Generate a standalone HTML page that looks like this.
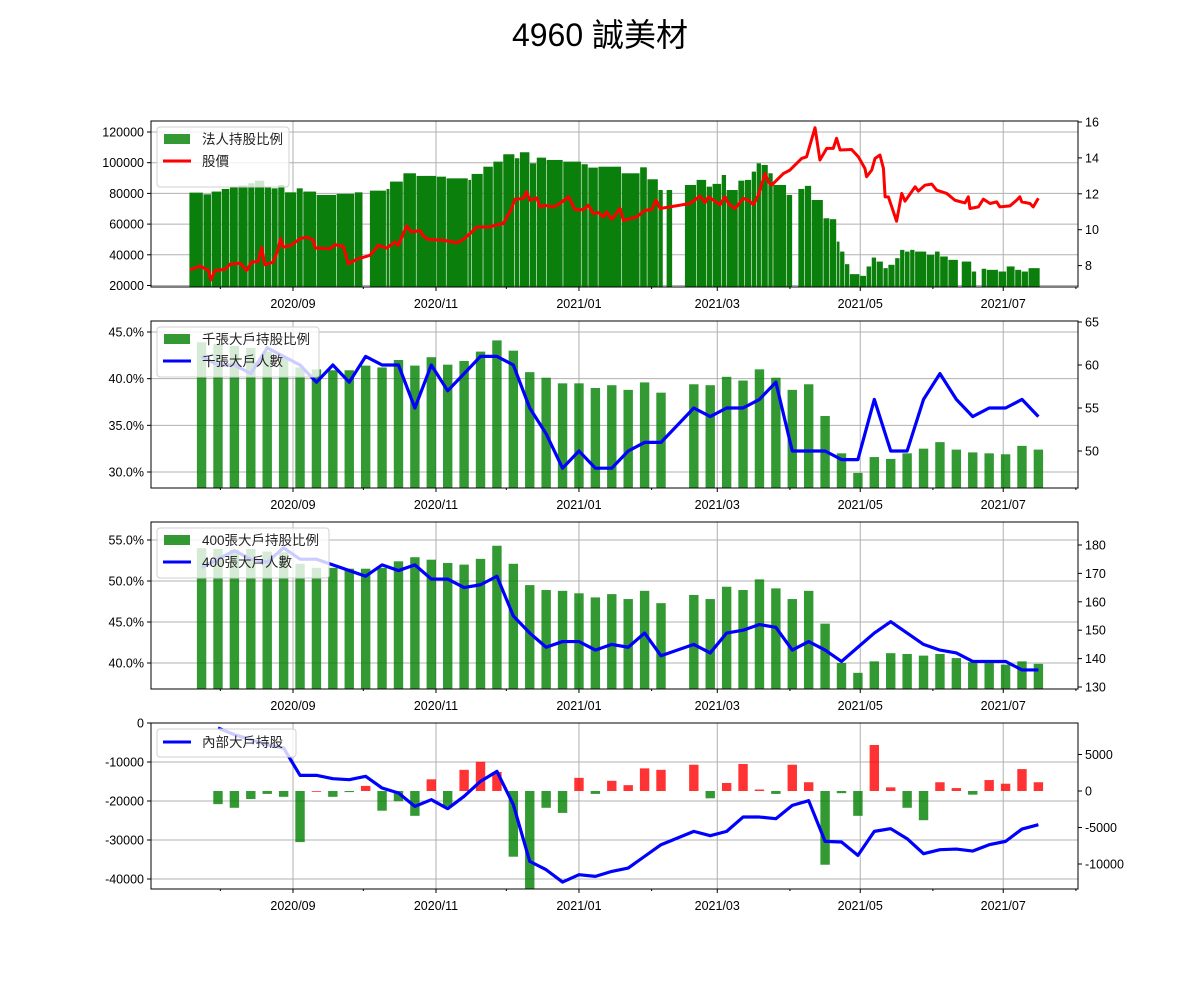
<!DOCTYPE html>
<html><head><meta charset="utf-8"><style>
html,body{margin:0;padding:0;background:#fff;}
svg{display:block;font-family:"Liberation Sans","Noto Sans CJK TC",sans-serif;}
</style></head><body>
<svg id="chart" width="1200" height="1000" viewBox="0 0 1200 1000">
<text x="600" y="46" font-size="32" text-anchor="middle" fill="#000" font-family="Liberation Sans, Noto Sans CJK TC, sans-serif">4960 誠美材</text>
</svg>
<script>
// ---------- Data ----------
// Panel 1: day offsets from 2020-09-01; each bar spans to the next entry
const holdDays = [-44.2,-38.2,-34.7,-30.4,-26.9,-23.3,-19.1,-16.2,-12,-9.1,-6.3,-3.4,1.6,4.4,10.1,18.6,26.4,29.9,32.8,39.9,41.4,47.1,52.7,61.3,65.5,74.8,76.2,81.2,85.5,89.7,94.7,96.8,101.1,104,108.2,115.3,123.1,126,130.3,140.2,148.1,151.2,155.9,158,159.4,162,167.2,172.2,176.5,179,182.9,185,190,192.8,195.7,197.8,199.9,202.8,204.9,210.6,213.2,215.6,218.4,221.3,226.3,229.1,232,233.4,235.5,237.6,241.9,244.7,246.9,249,251.9,254,256.9,259,261.1,263.3,265.4,270.4,273.9,276.1,279.6,283.9,285.3,289.6,291.7,293.8,296,301,304.5,308.1,310.9,313.8,318.8];
const holdVals = [80500,79400,81200,82900,84400,85100,86600,88300,83800,83300,85500,80700,83300,81200,79000,79700,80700,null,81800,82900,87700,93100,91400,90900,89800,88800,92700,97400,100700,105500,102900,106800,99600,103300,101800,100700,99000,96800,97400,93100,97000,89200,82200,null,82200,null,85500,88800,84400,86200,92000,82200,88300,88800,94200,99600,98500,93100,85500,79000,null,82900,84900,75700,63800,63200,48600,42100,33900,27400,26300,32400,38200,35600,31300,33500,37800,43200,42100,43200,42100,40000,42100,38900,36700,null,35600,29100,null,30900,30200,29100,32400,30200,29100,31300,null];
const priceDays = [-43.9,-39.7,-36.1,-35.0,-33.3,-29.0,-26.9,-22.6,-19.8,-17.6,-14.8,-13.4,-12.0,-8.4,-6.3,-5.3,-4.1,-0.9,3.0,5.8,8.7,9.4,15.8,17.9,21.5,23.6,27.2,32.8,34.3,36.4,40.0,43.5,44.9,48.5,50.6,54.2,55.6,57.7,64.1,67.0,69.8,72.7,75.5,78.4,84.0,86.9,89.7,93.3,94.7,98.3,99.7,101.1,104.0,105.4,107.5,111.1,113.9,117.5,120.3,123.9,126.0,128.1,130.3,132.4,133.8,136.0,139.5,140.9,146.6,150.2,153.0,154.9,156.6,169.4,173.6,175.8,177.2,182.2,184.3,185.7,188.6,192.1,194.3,196.4,198.5,201.4,202.8,204.2,209.2,212.0,217.0,219.1,222.7,224.8,227.7,230.5,231.9,233.4,238.3,241.2,244.0,244.7,246.9,248.3,250.4,251.9,252.6,254.0,257.5,259.7,261.1,265.4,266.8,269.6,272.5,274.6,278.9,282.4,286.7,288.1,288.8,292.4,294.5,297.4,300.2,301.6,305.9,308.7,310.1,310.9,314.4,315.8,318.0];
const priceVals = [7.77,7.97,7.73,7.21,7.73,7.79,8.07,8.14,7.73,8.20,8.23,9.03,8.05,8.20,8.94,9.50,9.03,9.13,9.50,9.59,9.41,8.98,8.94,9.17,9.07,8.10,8.35,8.57,8.79,9.13,8.98,9.31,9.13,10.21,9.87,9.95,9.65,9.46,9.41,9.35,9.26,9.46,9.78,10.15,10.15,10.28,10.34,11.18,11.70,11.73,12.11,11.64,11.77,11.27,11.36,11.27,11.46,11.83,11.12,11.12,11.36,10.90,10.95,10.71,10.99,10.58,11.18,10.52,10.71,11.08,11.12,11.64,11.18,11.46,11.87,11.51,11.83,11.40,11.83,11.46,11.18,11.75,11.64,11.40,11.92,13.13,12.67,12.48,13.13,13.32,13.97,14.06,15.68,13.88,14.53,14.53,15.09,14.44,14.47,14.06,13.41,12.95,13.32,13.97,14.16,13.41,11.83,11.83,10.47,12.02,11.59,12.39,12.15,12.48,12.54,12.20,12.02,11.64,11.49,11.83,11.18,11.27,11.70,11.46,11.55,11.27,11.33,11.64,11.83,11.55,11.46,11.27,11.75];

// Weekly series: week index i -> day = -39 + 7*i (2020-07-24 ... 2021-07-16)
const weekIndex = Array.from({length:52},(_,i)=>i);
const big1000Pct = [43.9,43.7,43.5,43.3,42.9,42.3,41.2,41.0,40.9,40.9,41.4,41.2,42.0,41.4,42.3,41.5,41.9,42.9,44.1,43.0,40.7,40.1,39.5,39.5,39.0,39.3,38.8,39.6,38.5,null,39.4,39.3,40.2,39.8,41.0,40.1,38.8,39.4,36.0,32.0,29.9,31.6,31.4,32.0,32.5,33.2,32.4,32.1,32.0,31.9,32.8,32.4];
const big1000Count = [61,60,60,59,62,61,60,58,60,58,61,60,60,55,60,57,59,61,61,60,55,52,48,50,48,48,50,51,51,null,55,54,55,55,56,58,50,50,50,49,49,56,50,50,56,59,56,54,55,55,56,54];
const big400Pct = [54.0,53.9,53.8,53.9,53.6,53.5,52.1,51.6,51.6,51.5,51.5,51.6,52.4,52.9,52.6,52.2,52.0,52.7,54.3,52.1,49.5,48.9,48.8,48.5,48.0,48.4,47.8,48.8,47.3,null,48.3,47.8,49.3,48.9,50.2,49.1,47.8,48.8,44.8,40.0,38.8,40.2,41.2,41.1,40.9,41.1,40.6,40.1,40.1,39.8,40.2,39.9];
const big400Count = [172,175,178,175,174,179,175,175,173,171,169,173,171,173,168,168,165,166,169,155,149,144,146,146,143,145,144,149,141,null,145,142,149,150,152,151,143,146,143,139,144,149,153,149,145,143,142,139,139,139,136,136];
const insiderChange = [null,-1800,-2300,-1100,-400,-800,-7000,0,-800,-150,700,-2700,-1400,-3400,1600,-2100,2900,4000,2600,-9000,-14000,-2300,-3000,1800,-400,1400,800,3100,2900,null,3600,-1000,1100,3700,200,-400,3600,1200,-10100,-300,-3400,6300,500,-2300,-4000,1200,400,-500,1500,1000,3000,1200];
const insiderTotal = [null,-1280,-2990,-4270,-5560,-6410,-13420,-13420,-14280,-14530,-13680,-16670,-17950,-21370,-19660,-21970,-18800,-14960,-12400,-20950,-35480,-37620,-40780,-38900,-39330,-38050,-37190,-34200,-31210,null,-27790,-28900,-27790,-24110,-24110,-24540,-21120,-19920,-30350,-30520,-33940,-27790,-27100,-29670,-33520,-32490,-32320,-32830,-31210,-30350,-27190,-26080];

const xTickDays = [0,61,122,181,242,303];
const xTickLabels = ["2020/09","2020/11","2021/01","2021/03","2021/05","2021/07"];
const xMinorDays = [-31,30,91,153,212,273,334];

// ---------- Helpers ----------
const NS = "http://www.w3.org/2000/svg";
const svg = document.getElementById('chart');
const X0 = 151, X1 = 1078;
function xs(day){ return 293 + day*2.344; }
function mk(tag, attrs, parent){
  const e = document.createElementNS(NS, tag);
  for (const k in attrs) e.setAttribute(k, attrs[k]);
  (parent||svg).appendChild(e);
  return e;
}
function lin(v0,y0,v1,y1){ return v => y0 + (v - v0)*(y1 - y0)/(v1 - v0); }

function panelFrame(name, top, bottom, leftTicks, leftLabels, ly, rightTicks, rightLabels, ry){
  const g = mk('g', {});
  
  
  const cid = name + '-clip';
  const cp = mk('clipPath', {id: cid}, g);
  mk('rect', {x:X0, y:top, width:X1-X0, height:bottom-top}, cp);
  // grid
  const grid = mk('g', {stroke:'#b0b0b0','stroke-width':1}, g);
  
  
  xTickDays.forEach(d => mk('line', {x1:xs(d), x2:xs(d), y1:top, y2:bottom}, grid));
  leftTicks.forEach(v => mk('line', {x1:X0, x2:X1, y1:ly(v), y2:ly(v)}, grid));
  const plot = mk('g', {'clip-path':'url(#'+cid+')'}, g);
  return {g, plot, top, bottom, leftTicks, leftLabels, ly, rightTicks, rightLabels, ry, name};
}
function panelAxes(p){
  const g = p.g;
  mk('rect', {x:X0, y:p.top, width:X1-X0, height:p.bottom-p.top, fill:'none', stroke:'#000', 'stroke-width':1}, g);
  const ax = mk('g', {'font-size':12.5, fill:'#000'}, g);
  
  
  p.leftTicks.forEach((v,i) => {
    const y = p.ly(v);
    mk('line', {x1:X0-4, x2:X0, y1:y, y2:y, stroke:'#000'}, ax);
    const t = mk('text', {x:X0-7, y:y+4.5, 'text-anchor':'end'}, ax);
    t.textContent = p.leftLabels[i];
  });
  p.rightTicks.forEach((v,i) => {
    const y = p.ry(v);
    mk('line', {x1:X1, x2:X1+4, y1:y, y2:y, stroke:'#000'}, ax);
    const t = mk('text', {x:X1+7, y:y+4.5, 'text-anchor':'start'}, ax);
    t.textContent = p.rightLabels[i];
  });
  xTickDays.forEach((d,i) => {
    mk('line', {x1:xs(d), x2:xs(d), y1:p.bottom, y2:p.bottom+4, stroke:'#000'}, ax);
    const t = mk('text', {x:xs(d), y:p.bottom+21, 'text-anchor':'middle'}, ax);
    t.textContent = xTickLabels[i];
  });
  xMinorDays.forEach(d => mk('line', {x1:xs(d), x2:xs(d), y1:p.bottom, y2:p.bottom+2, stroke:'#000'}, ax));
}
function legend(p, w, h, items){
  const lg = mk('g', {}, p.g);
  
  
  mk('rect', {x:157, y:p.top+6, width:w, height:h, rx:3, fill:'#fff', 'fill-opacity':0.8, stroke:'#d0d0d0'}, lg);
  items.forEach((it,i) => {
    const cy = p.top + 18 + i*22;
    if (it.type === 'bar') mk('rect', {x:164, y:cy-5, width:26, height:10, fill:it.color, 'fill-opacity':0.8}, lg);
    else mk('line', {x1:163, x2:191, y1:cy, y2:cy, stroke:it.color, 'stroke-width':3}, lg);
    const t = mk('text', {x:202, y:cy+5, 'font-size':13.5, fill:'#222'}, lg);
    t.textContent = it.label;
  });
}
function linePath(days, vals, ys){
  let d = '';
  days.forEach((dd,i) => { if (vals[i] == null) return; d += (d ? 'L' : 'M') + xs(dd).toFixed(2) + ',' + ys(vals[i]).toFixed(2); });
  return d;
}
const weekDays = weekIndex.map(i => -39 + 7*i);

// ---------- Panel 1 ----------
{
  const ly = lin(120000,132,20000,285.5), ry = lin(16,122,8,265.6);
  const p = panelFrame('panel-institutional', 121, 287, [20000,40000,60000,80000,100000,120000], ['20000','40000','60000','80000','100000','120000'], ly, [8,10,12,14,16], ['8','10','12','14','16'], ry);
  const bars = mk('g', {fill:'#0b7f0b'}, p.plot);
  
  
  for (let k = 0; k < holdDays.length - 1; k++) {
    if (holdVals[k] == null) continue;
    const xa = xs(holdDays[k]), xb = xs(holdDays[k+1]);
    const r = mk('rect', {x:xa, y:ly(holdVals[k]), width:Math.max(0.5, xb-xa-0.6), height:p.bottom - ly(holdVals[k])}, bars);
    
    
  }
  const pl = mk('path', {d:linePath(priceDays, priceVals, ry), fill:'none', stroke:'#ff0000', 'stroke-width':3, 'stroke-linejoin':'round'}, p.plot);
  
  
  panelAxes(p);
  legend(p, 132, 60, [{type:'bar', color:'#008000', label:'法人持股比例'}, {type:'line', color:'#ff0000', label:'股價'}]);
}

// ---------- Panels 2/3 ----------
function weeklyPanel(name, top, bottom, pctVals, cntVals, ly, ry, lt, ll, rt, rl, labels, legendW, barName, lineName){
  const p = panelFrame(name, top, bottom, lt, ll, ly, rt, rl, ry);
  const bars = mk('g', {fill:'#008000', 'fill-opacity':0.8}, p.plot);
  
  
  weekDays.forEach((d,i) => {
    if (pctVals[i] == null) return;
    const y = ly(pctVals[i]);
    const r = mk('rect', {x:xs(d)-4.7, y:y, width:9.4, height:bottom - y}, bars);
    
    
  });
  const pl = mk('path', {d:linePath(weekDays, cntVals, ry), fill:'none', stroke:'#0000ff', 'stroke-width':3.2, 'stroke-linejoin':'round'}, p.plot);
  
  
  panelAxes(p);
  legend(p, legendW, 50, [{type:'bar', color:'#008000', label:labels[0]}, {type:'line', color:'#0000ff', label:labels[1]}]);
}
weeklyPanel('panel-1000-holders', 321, 488, big1000Pct, big1000Count, lin(45,332,30,472), lin(65,322,50,451),
  [30,35,40,45], ['30.0%','35.0%','40.0%','45.0%'], [50,55,60,65], ['50','55','60','65'],
  ['千張大戶持股比例','千張大戶人數'], 162, 'big1000-pct-bars', 'big1000-count-line');
weeklyPanel('panel-400-holders', 522, 689, big400Pct, big400Count, lin(55,540,40,663), lin(180,545,130,687),
  [40,45,50,55], ['40.0%','45.0%','50.0%','55.0%'], [130,140,150,160,170,180], ['130','140','150','160','170','180'],
  ['400張大戶持股比例','400張大戶人數'], 172, 'big400-pct-bars', 'big400-count-line');

// ---------- Panel 4 ----------
{
  const ly = lin(0,723,-40000,879), ry = lin(0,791,-10000,864);
  const p = panelFrame('panel-insider', 723, 889, [0,-10000,-20000,-30000,-40000], ['0','-10000','-20000','-30000','-40000'], ly, [5000,0,-5000,-10000], ['5000','0','-5000','-10000'], ry);
  const bars = mk('g', {'fill-opacity':0.8}, p.plot);
  
  
  weekDays.forEach((d,i) => {
    const v = insiderChange[i];
    if (v == null) return;
    const y0 = ry(0), y1 = ry(v);
    const r = mk('rect', {x:xs(d)-4.7, y:Math.min(y0,y1), width:9.4, height:Math.max(0.8, Math.abs(y1-y0)), fill: v >= 0 ? '#ff0000' : '#008000'}, bars);
    
    
  });
  const pl = mk('path', {d:linePath(weekDays, insiderTotal, ly), fill:'none', stroke:'#0000ff', 'stroke-width':3.2, 'stroke-linejoin':'round'}, p.plot);
  
  
  panelAxes(p);
  const lg = mk('g', {}, p.g);
  
  
  mk('rect', {x:157, y:729, width:139, height:28, rx:3, fill:'#fff', 'fill-opacity':0.8, stroke:'#d0d0d0'}, lg);
  mk('line', {x1:163, x2:191, y1:742, y2:742, stroke:'#0000ff', 'stroke-width':3}, lg);
  const t = mk('text', {x:202, y:747, 'font-size':13.5, fill:'#222'}, lg);
  t.textContent = '內部大戶持股';
}
</script>
</body></html>
